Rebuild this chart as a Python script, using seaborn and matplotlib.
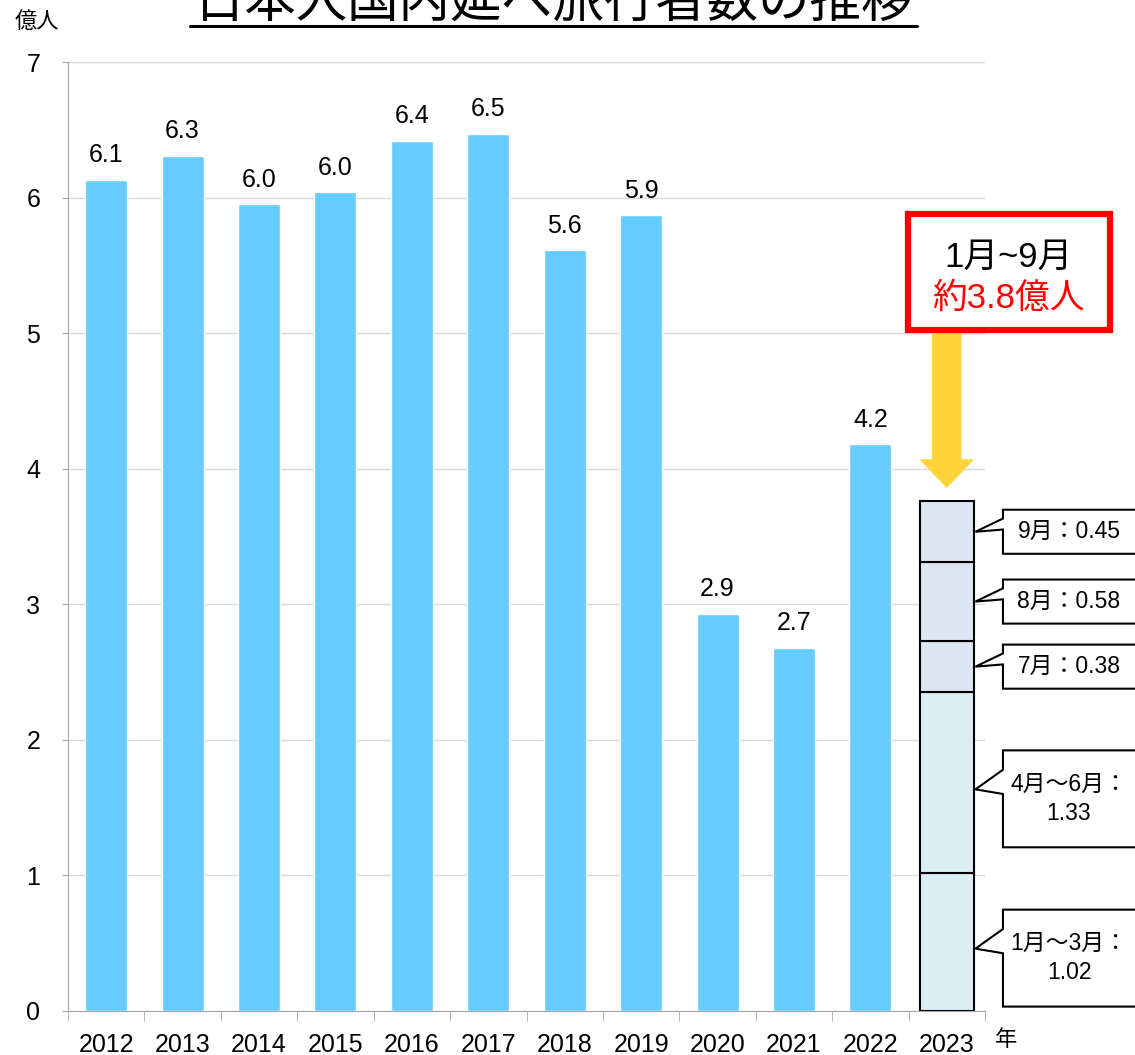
import numpy as np
import pandas as pd
import matplotlib.pyplot as plt
import seaborn as sns
from matplotlib.patches import Rectangle, Polygon, FancyArrow
from matplotlib.lines import Line2D

sns.set_style('white')
plt.rcParams['font.family'] = ['Liberation Sans', 'Noto Sans CJK JP']
plt.rcParams['axes.unicode_minus'] = False
plt.rcParams['text.color'] = 'black'

# データ
years = ['2012', '2013', '2014', '2015', '2016', '2017',
         '2018', '2019', '2020', '2021', '2022', '2023']
totals = [6.13, 6.31, 5.95, 6.04, 6.42, 6.47, 5.61, 5.87, 2.93, 2.68, 4.18]

seg_labels = ['1月～3月：\n1.02', '4月～6月：\n1.33', '7月：0.38', '8月：0.58', '9月：0.45']
seg_values = [1.02, 1.33, 0.38, 0.58, 0.45]
seg_colors = ['#DAEEF3', '#DAEEF3', '#DCE6F2', '#DCE6F2', '#DCE6F2']

df = pd.DataFrame({'year': years[:len(totals)], 'value': totals})

W, H = 1135, 1055
fig = plt.figure(figsize=(W / 100, H / 100), dpi=100)
ax = fig.add_axes([68 / W, 1 - 1011 / H, (985 - 68) / W, (1011 - 62) / H])

sns.barplot(data=df, x='year', y='value', order=years, color='#66CCFF',
            saturation=1, width=0.55, ax=ax, zorder=3)
ax.bar_label(ax.containers[0], fmt='%.1f', padding=9, fontsize=18, color='black')

# 2023年（1月～9月）積み上げ
x23 = years.index('2023')
bar_w = 0.71
bottoms = np.concatenate([[0], np.cumsum(seg_values)[:-1]])
ax.bar(x23, seg_values, bottom=bottoms, width=bar_w, color=seg_colors,
       edgecolor='black', linewidth=1.5, zorder=3)

# 吹き出し
left = x23 + 0.735
right = x23 + 3.0
tip_x = x23 + bar_w / 2 + 0.02
for lab, b, v in zip(seg_labels, bottoms, seg_values):
    mid = b + v / 2
    two = '\n' in lab
    h = 0.715 if two else 0.325
    cy = mid - (0.12 if two else 0.0)
    tip_y = mid - (0.05 if two else 0.0)
    top, bot = cy + h / 2, cy - h / 2
    pts = [(left, top), (right, top), (right, bot), (left, bot),
           (left, top - h * 0.45), (tip_x, tip_y), (left, top - h * 0.2)]
    ax.add_patch(Polygon(pts, closed=True, facecolor='white', edgecolor='black',
                         linewidth=1.5, clip_on=False, zorder=4))
    ax.text(x23 + 1.6, cy, lab, ha='center', va='center', fontsize=16.5,
            linespacing=1.35, clip_on=False, zorder=5)

# 赤枠と矢印
ax.add_patch(Rectangle((x23 - 0.51, 5.02), 2.64, 0.86, facecolor='white',
                       edgecolor='#FF0000', linewidth=4.5, clip_on=False, zorder=5))
ax.text(x23 + 0.81, 5.56, '1月~9月', ha='center', va='center', fontsize=25,
        clip_on=False, zorder=6)
ax.text(x23 + 0.81, 5.26, '約3.8億人', ha='center', va='center', fontsize=25,
        color='#FF0000', clip_on=False, zorder=6)
ax.add_patch(FancyArrow(x23, 5.0, 0, -(5.0 - 3.865), width=0.366, head_width=0.68,
                        head_length=0.2, length_includes_head=True,
                        color='#FFD43B', clip_on=False, zorder=4))

# 軸
ax.set_xlim(-0.5, len(years) - 0.5)
ax.set_ylim(0, 7)
ax.set_yticks(range(8))
ax.set_xticks(np.arange(-0.5, len(years), 1), minor=True)
ax.set_xlabel('')
ax.set_ylabel('')
ax.set_axisbelow(True)
ax.yaxis.grid(True, color='#D9D9D9', linewidth=1)
for s in ['top', 'right']:
    ax.spines[s].set_visible(False)
for s in ['left', 'bottom']:
    ax.spines[s].set_color('#A6A6A6')
ax.tick_params(axis='x', which='major', length=0, pad=16, labelsize=18,
               bottom=True, labelcolor='black')
ax.tick_params(axis='x', which='minor', length=7, color='#A6A6A6', bottom=True)
ax.tick_params(axis='y', length=4, color='#A6A6A6', pad=16, labelsize=18,
               left=True, labelcolor='black')

# タイトル・単位
fig.text(553.5 / W, 1 - 17 / H, '日本人国内延べ旅行者数の推移', ha='center',
         va='baseline', fontsize=37)
fig.add_artist(Line2D([190 / W, 917 / W], [1 - 26 / H, 1 - 26 / H],
                      color='black', linewidth=2.2))
fig.text(15 / W, 1 - 22 / H, '億人', ha='left', va='center', fontsize=16)
fig.text(995 / W, 1 - 1040 / H, '年', ha='left', va='center', fontsize=16)

fig.savefig('out.png', dpi=100)
